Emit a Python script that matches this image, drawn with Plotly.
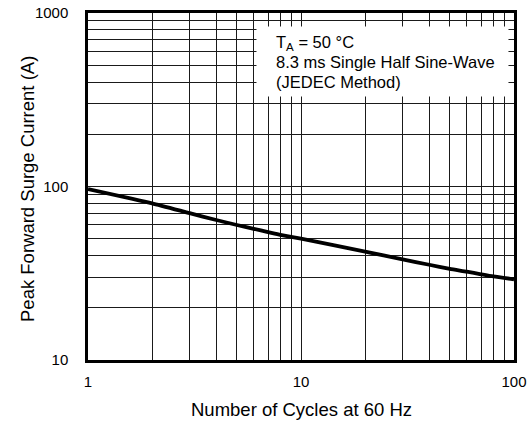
import plotly.graph_objects as go

cycles = [1, 2, 3, 4, 5, 6, 7, 8, 10, 20, 30, 40, 50, 60, 70, 80, 100]
current = [96.7, 80, 70.2, 64.1, 60, 57.0, 54.6, 52.6, 50.0, 42.1, 38.0, 35.4, 33.5, 32.3, 31.2, 30.3, 29.2]

x_major = [1, 10, 100]
x_minor = [2, 3, 4, 5, 6, 7, 8, 9, 20, 30, 40, 50, 60, 70, 80, 90]
y_major = [10, 100, 1000]
y_minor = [20, 30, 40, 50, 60, 70, 80, 90, 200, 300, 400, 500, 600, 700, 800, 900]

x_title = "Number of Cycles at 60 Hz"
y_title = "Peak Forward Surge Current (A)"
note_lines = ["T<sub>A</sub> = 50 °C", "8.3 ms Single Half Sine-Wave", "(JEDEC Method)"]

W, H = 531, 421
L, R, T, B = 88, 17, 13, 61
pw, ph = W - L - R, H - T - B

fig = go.Figure()
fig.add_trace(go.Scatter(x=cycles, y=current, mode="lines",
                         line=dict(color="black", width=3.8, shape="spline", smoothing=0.5),
                         showlegend=False, hoverinfo="skip"))

font = dict(family="Liberation Sans, Arial, sans-serif", color="black")
grid_col = "#1a1a1a"

axis_common = dict(
    type="log", showline=True, mirror=True, linecolor="black", linewidth=2.5,
    showgrid=True, gridcolor=grid_col, gridwidth=1, ticks="", zeroline=False,
    tickfont=dict(size=15, **font), automargin=False,
)

fig.update_xaxes(
    **axis_common, range=[0, 2], tickvals=x_major, ticktext=["1", "10", "100"],
    ticklabelstandoff=6,
    minor=dict(tickvals=x_minor, showgrid=True, gridcolor=grid_col, gridwidth=1, ticks=""),
)
fig.update_yaxes(
    **axis_common, range=[1, 3], tickvals=y_major, ticktext=["10", "100", "1000"],
    ticklabelstandoff=14,
    minor=dict(tickvals=y_minor, showgrid=True, gridcolor=grid_col, gridwidth=1, ticks=""),
)

# axis titles
fig.add_annotation(xref="paper", yref="paper", x=(301 - L) / pw, y=1 - (409 - T) / ph,
                   xanchor="center", yanchor="middle", showarrow=False,
                   text=x_title, font=dict(size=18.5, **font))
fig.add_annotation(xref="paper", yref="paper", x=(27 - L) / pw, y=1 - (189 - T) / ph,
                   xanchor="center", yanchor="middle", showarrow=False, textangle=-90,
                   text=y_title, font=dict(size=18.5, **font))

fig.add_shape(type="rect", xref="x", yref="y", x0=6.18, x1=94.2, y0=330, y1=836,
              fillcolor="white", line=dict(width=0), layer="above")

line_centers = [42.5, 62.5, 82.5]
for txt, yc in zip(note_lines, line_centers):
    fig.add_annotation(
        xref="paper", yref="paper", x=(273.5 - L) / pw, y=1 - (yc - T) / ph,
        xanchor="left", yanchor="middle", align="left", showarrow=False,
        text=txt, font=dict(size=16.5, **font),
    )

fig.update_layout(
    width=W, height=H, margin=dict(l=L, r=R, t=T, b=B, pad=0, autoexpand=False),
    paper_bgcolor="white", plot_bgcolor="white", font=font,
)
fig.write_html("out.html", config={"displayModeBar": False},
               post_script="document.body.style.margin='0px';")
